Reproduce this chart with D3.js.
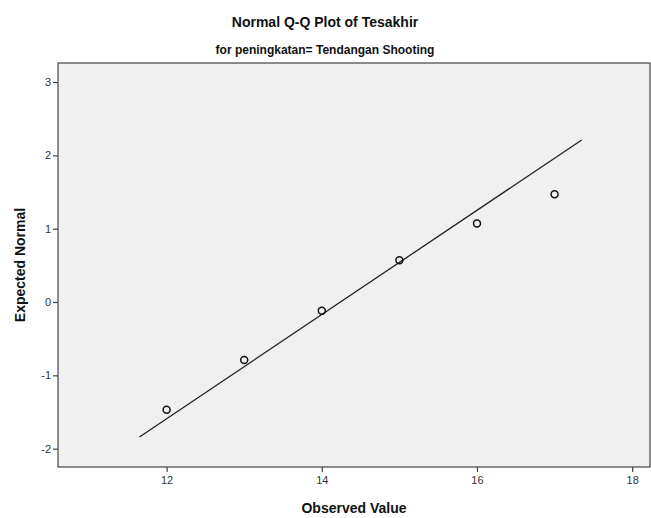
<!DOCTYPE html>
<html>
<head>
<meta charset="utf-8">
<script src="https://cdn.jsdelivr.net/npm/d3@7"></script>
<style>
  body { margin: 0; background: #fff; }
  text { font-family: "Liberation Sans", Arial, sans-serif; }
</style>
</head>
<body>
<svg width="651" height="518"></svg>
<script>
// observed values and their expected normal scores
var observed = [12, 13, 14, 15, 16, 17];
var expected = [-1.47, -0.79, -0.12, 0.57, 1.07, 1.47];
// reference line: ends of the fitted normal line
var lineX = [11.65, 17.35];
var lineY = [-1.84, 2.21];
var xTicks = [12, 14, 16, 18];
var yTicks = [-2, -1, 0, 1, 2, 3];

var svg = d3.select('svg'),
  plotL = 58, plotR = 650, plotT = 63, plotB = 467;

var x = d3.scaleLinear().domain([10.6, 18.23]).range([plotL, plotR]);
var y = d3.scaleLinear().domain([-2.25, 3.26]).range([plotB, plotT]);

// plot area
svg.append('rect')
  .attr('x', plotL).attr('y', plotT)
  .attr('width', plotR - plotL).attr('height', plotB - plotT)
  .attr('fill', '#f0f0f0')
  .attr('stroke', '#444').attr('stroke-width', 1.2);

// axes (plain hyphen for negatives, like the original)
var fmt = function(d) { return String(d); };
var xAxis = svg.append('g')
  .attr('transform', 'translate(0,' + plotB + ')')
  .call(d3.axisBottom(x).tickValues(xTicks).tickFormat(fmt).tickSize(5).tickPadding(4));
var yAxis = svg.append('g')
  .attr('transform', 'translate(' + plotL + ',0)')
  .call(d3.axisLeft(y).tickValues(yTicks).tickFormat(fmt).tickSize(5).tickPadding(2));

[xAxis, yAxis].forEach(function(a) {
  a.select('.domain').remove();
  a.selectAll('line').attr('stroke', '#444').attr('stroke-width', 1.2);
  a.selectAll('text').attr('fill', '#333').style('font-size', '11px');
});

// reference line
svg.append('line')
  .attr('x1', x(lineX[0])).attr('y1', y(lineY[0]))
  .attr('x2', x(lineX[1])).attr('y2', y(lineY[1]))
  .attr('stroke', '#222').attr('stroke-width', 1.3);

// points
svg.selectAll('circle.pt')
  .data(observed)
  .enter().append('circle')
  .attr('class', 'pt')
  .attr('cx', function(d) { return x(d); })
  .attr('cy', function(d, i) { return y(expected[i]); })
  .attr('r', 3.5)
  .attr('fill', 'none')
  .attr('stroke', '#111')
  .attr('stroke-width', 1.5);

// titles
svg.append('text')
  .attr('x', 325).attr('y', 27)
  .attr('text-anchor', 'middle')
  .style('font-size', '14px').style('font-weight', 'bold')
  .attr('fill', '#111')
  .text('Normal Q-Q Plot of Tesakhir');

svg.append('text')
  .attr('x', 325).attr('y', 54)
  .attr('text-anchor', 'middle')
  .style('font-size', '12px').style('font-weight', 'bold')
  .attr('fill', '#111')
  .text('for peningkatan= Tendangan Shooting');

svg.append('text')
  .attr('x', 354).attr('y', 513)
  .attr('text-anchor', 'middle')
  .style('font-size', '14px').style('font-weight', 'bold')
  .attr('fill', '#111')
  .text('Observed Value');

svg.append('text')
  .attr('transform', 'translate(25,265) rotate(-90)')
  .attr('text-anchor', 'middle')
  .style('font-size', '14px').style('font-weight', 'bold')
  .attr('fill', '#111')
  .text('Expected Normal');
</script>
</body>
</html>
